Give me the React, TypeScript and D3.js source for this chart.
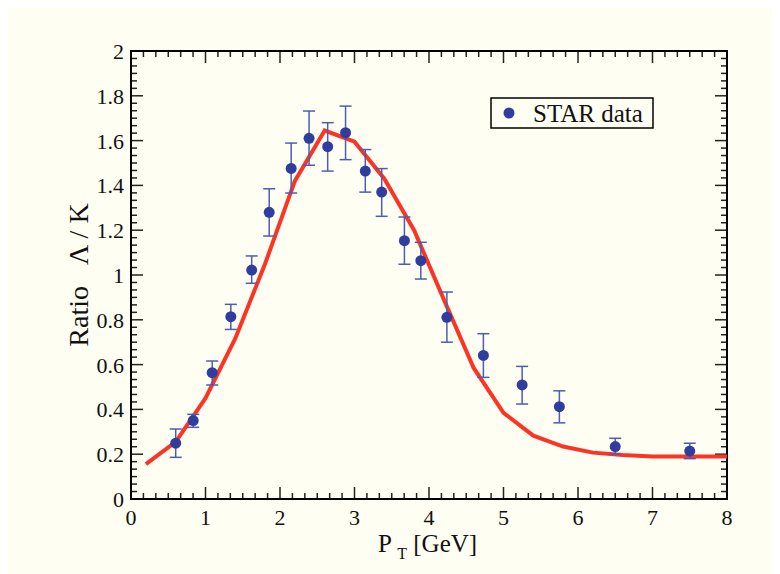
import React from "react";
import * as d3 from "d3";

const ptData = [0.6, 0.835, 1.09, 1.34, 1.62, 1.855, 2.15, 2.39, 2.64, 2.88, 3.145, 3.365, 3.67, 3.89, 4.24, 4.73, 5.25, 5.75, 6.5, 7.5];
const ratioData = [0.249, 0.35, 0.564, 0.814, 1.022, 1.28, 1.476, 1.61, 1.573, 1.635, 1.464, 1.37, 1.153, 1.064, 0.811, 0.641, 0.509, 0.412, 0.234, 0.214];
const errLow = [0.186, 0.32, 0.509, 0.757, 0.963, 1.174, 1.366, 1.49, 1.464, 1.515, 1.37, 1.262, 1.048, 0.982, 0.70, 0.543, 0.424, 0.34, 0.2, 0.18];
const errHigh = [0.3125, 0.378, 0.616, 0.869, 1.085, 1.385, 1.589, 1.732, 1.68, 1.754, 1.56, 1.475, 1.259, 1.146, 0.924, 0.738, 0.592, 0.483, 0.271, 0.249];

const theoryPt = [0.2, 0.6, 1.0, 1.4, 1.8, 2.2, 2.6, 3.0, 3.4, 3.8, 4.2, 4.6, 5.0, 5.4, 5.8, 6.2, 6.6, 7.0, 7.4, 7.8, 8.0];
const theoryRatio = [0.156, 0.255, 0.45, 0.717, 1.05, 1.42, 1.645, 1.595, 1.43, 1.2, 0.89, 0.585, 0.385, 0.283, 0.234, 0.207, 0.196, 0.19, 0.19, 0.19, 0.19];

const xTickLabels = ["0", "1", "2", "3", "4", "5", "6", "7", "8"];
const yTickLabels = ["0", "0.2", "0.4", "0.6", "0.8", "1", "1.2", "1.4", "1.6", "1.8", "2"];

const legendLabel = "STAR data";

export default function App() {
  const L = 131, R = 727, T = 51, B = 499;
  const x = d3.scaleLinear().domain([0, 8]).range([L, R]);
  const y = d3.scaleLinear().domain([0, 2]).range([B, T]);
  const font = "Liberation Serif, Times New Roman, serif";
  const bg = "#fefef2";
  const red = "#fb3526";
  const blue = "#2f3e9e";
  const errColor = "#4d5db0";

  const xMajor = xTickLabels.map((_, i) => i);
  const yMajor = yTickLabels.map((_, i) => i * 0.2);
  const xMinor: number[] = [];
  for (let i = 0; i < 8; i++) for (let k = 1; k < 6; k++) xMinor.push(i + k / 6);
  const yMinor: number[] = [];
  for (let i = 0; i < 10; i++) for (let k = 1; k < 6; k++) yMinor.push(i * 0.2 + (k * 0.2) / 6);

  const line = d3
    .line<number>()
    .x((_, i) => x(theoryPt[i]))
    .y((d) => y(d));

  const tickColor = "#222";
  const maj = 12, mnr = 6;
  const ts = { fontFamily: font } as React.CSSProperties;

  return (
    <svg width={772} height={566} style={{ display: "block" }}>
      <g transform="translate(-8,-8)">
        <rect x={8} y={8} width={780} height={574} fill={bg} />
        <g stroke={tickColor} strokeWidth={1.5}>
          {xMajor.map((v) => (
            <g key={"xm" + v}>
              <line x1={x(v)} x2={x(v)} y1={B} y2={B - maj} />
              <line x1={x(v)} x2={x(v)} y1={T} y2={T + maj} />
            </g>
          ))}
          {xMinor.map((v, i) => (
            <g key={"xn" + i}>
              <line x1={x(v)} x2={x(v)} y1={B} y2={B - mnr} />
              <line x1={x(v)} x2={x(v)} y1={T} y2={T + mnr} />
            </g>
          ))}
          {yMajor.map((v, i) => (
            <g key={"ym" + i}>
              <line x1={L} x2={L + maj} y1={y(v)} y2={y(v)} />
              <line x1={R} x2={R - maj} y1={y(v)} y2={y(v)} />
            </g>
          ))}
          {yMinor.map((v, i) => (
            <g key={"yn" + i}>
              <line x1={L} x2={L + mnr} y1={y(v)} y2={y(v)} />
              <line x1={R} x2={R - mnr} y1={y(v)} y2={y(v)} />
            </g>
          ))}
        </g>
        <rect x={L} y={T} width={R - L} height={B - T} fill="none" stroke="#000" strokeWidth={2} />
        <g style={ts} fontSize={22} fill="#111">
          {xTickLabels.map((t, i) => (
            <text key={"xl" + i} x={x(i)} y={525} textAnchor="middle" style={ts}>
              {t}
            </text>
          ))}
          {yTickLabels.map((t, i) => (
            <text key={"yl" + i} x={124} y={y(i * 0.2) + 8} textAnchor="end" style={ts}>
              {t}
            </text>
          ))}
        </g>
        <path d={line(theoryRatio) || ""} fill="none" stroke={red} strokeWidth={4} strokeLinejoin="miter" />
        <g stroke={errColor} strokeWidth={1.5}>
          {ptData.map((p, i) => (
            <g key={"e" + i}>
              <line x1={x(p)} x2={x(p)} y1={y(errLow[i])} y2={y(errHigh[i])} />
              <line x1={x(p) - 6} x2={x(p) + 6} y1={y(errLow[i])} y2={y(errLow[i])} />
              <line x1={x(p) - 6} x2={x(p) + 6} y1={y(errHigh[i])} y2={y(errHigh[i])} />
            </g>
          ))}
        </g>
        {ptData.map((p, i) => (
          <circle key={"c" + i} cx={x(p)} cy={y(ratioData[i])} r={5.5} fill={blue} />
        ))}
        <rect x={491} y={98} width={162} height={30} fill={bg} stroke="#000" strokeWidth={1.5} />
        <circle cx={509} cy={113} r={5.5} fill={blue} />
        <text x={533} y={122} style={ts} fontSize={25} fill="#111">
          {legendLabel}
        </text>
        <text style={{ ...ts, whiteSpace: "pre" }} fontSize={25} fill="#111" y={552} x={378} xmlSpace="preserve">
          <tspan>P </tspan>
          <tspan fontSize={16} dy={7}>T</tspan>
          <tspan dy={-7}> [GeV]</tspan>
        </text>
        <text
          transform="translate(88,275) rotate(-90)"
          textAnchor="middle"
          style={{ ...ts, whiteSpace: "pre" }}
          fontSize={28}
          fill="#111"
          xmlSpace="preserve"
        >
          {"Ratio   Λ / K"}
        </text>
      </g>
    </svg>
  );
}
